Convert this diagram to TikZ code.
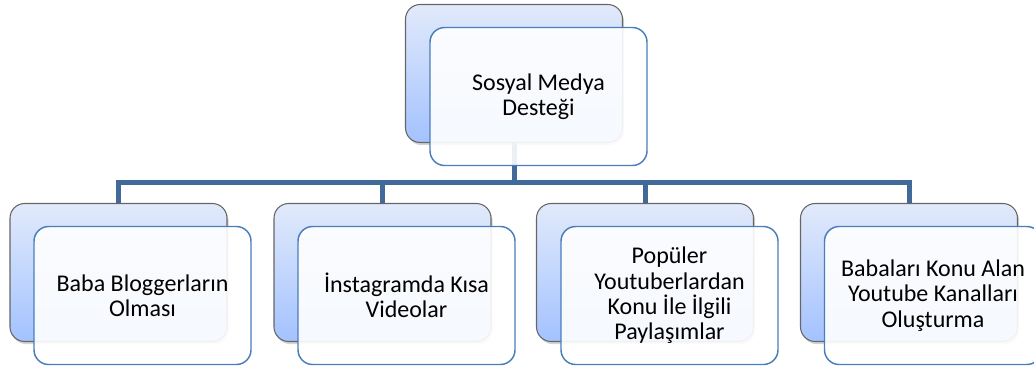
\documentclass[tikz,border=0pt]{standalone}
\usepackage{fontspec}
\setmainfont{Carlito}
\usetikzlibrary{shadows}
\definecolor{linkblue}{HTML}{41699A}
\definecolor{frontline}{HTML}{4A7EBB}
\definecolor{backtop}{HTML}{E2EAFB}
\definecolor{backbot}{HTML}{A3C2FF}
\tikzset{
  backbox/.style={draw=gray!80!black, line width=0.8pt, rounded corners=11pt,
    top color=backtop, bottom color=backbot,
    minimum width=162.75pt, minimum height=103.5pt,
    drop shadow={shadow xshift=1.2pt, shadow yshift=-2pt, opacity=0.35}},
  frontbox/.style={draw=frontline, line width=1.1pt, rounded corners=11pt,
    fill=white, fill opacity=0.9, text opacity=1,
    minimum width=162.75pt, minimum height=103.5pt,
    align=center, font=\fontsize{18}{19}\selectfont},
  link/.style={draw=linkblue, line width=3.75pt}
}
\begin{document}
\begin{tikzpicture}[x=0.75pt, y=-0.75pt]
\useasboundingbox (0,0) rectangle (1034,368);
% connectors behind the boxes
\coordinate (tstem) at (514,73.5);
\draw[link] (tstem) -- (514,182.5) coordinate (bar);
\draw[link] (bar) -| (118.5,272.5);
\draw[link] (bar) -| (382.5,272.5);
\draw[link] (bar) -| (645,272.5);
\draw[link] (bar) -| (909,272.5);
% top
\node[backbox] (tb) at (514,73.5) {};
\node[frontbox] (tf) at (538.5,96.5) {Sosyal Medya\\Desteği};
% bottom row
\node[backbox] (b1) at (118.5,272.5) {};
\node[frontbox] (f1) at (142.5,295.5) {Baba Bloggerların\\Olması};
\node[backbox] (b2) at (382.5,272.5) {};
\node[frontbox] (f2) at (406.5,295.5) {İnstagramda Kısa\\Videolar};
\node[backbox] (b3) at (645,272.5) {};
\node[frontbox] (f3) at (669.5,295.5) {Popüler\\Youtuberlardan\\Konu İle İlgili\\Paylaşımlar};
\node[backbox] (b4) at (909,272.5) {};
\node[frontbox] (f4) at (933,295.5) {Babaları Konu Alan\\Youtube Kanalları\\Oluşturma};
\end{tikzpicture}
\end{document}
